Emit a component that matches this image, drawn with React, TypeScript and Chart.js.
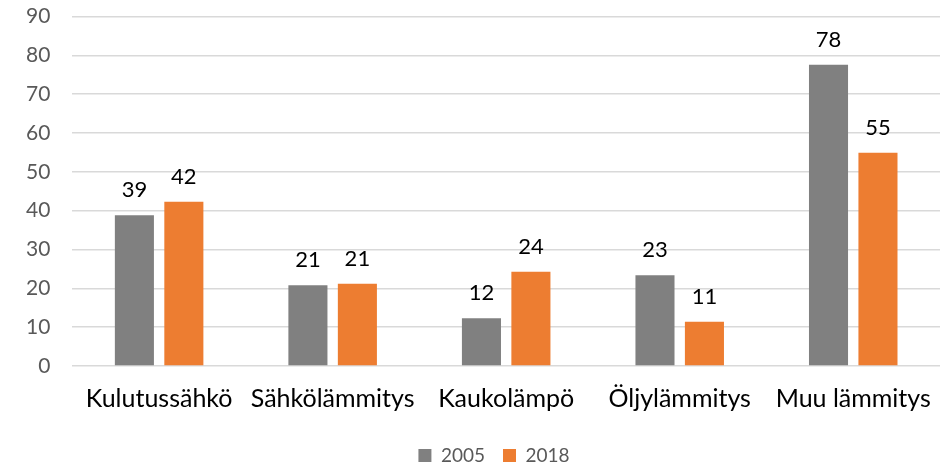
import React, { useEffect, useRef } from "react";
import { Chart, registerables } from "chart.js";

Chart.register(...registerables);

const categories = ["Kulutussähkö", "Sähkölämmitys", "Kaukolämpö", "Öljylämmitys", "Muu lämmitys"];
const series2005 = [38.8, 20.8, 12.3, 23.4, 77.6];
const series2018 = [42.3, 21.2, 24.3, 11.4, 54.9];
const seriesNames = ["2005", "2018"];
const seriesColors = ["#808080", "#ED7D31"];

const FONT = "Lato, 'Open Sans', sans-serif";

const valueLabels = {
  id: "valueLabels",
  afterLayout(chart: any) {
    const lg = chart.legend;
    if (lg) {
      lg.left += 22;
      lg.right += 22;
    }
  },
  afterDatasetsDraw(chart: any) {
    const ctx = chart.ctx;
    ctx.save();
    ctx.font = `22px ${FONT}`;
    ctx.fillStyle = "#000000";
    ctx.textAlign = "center";
    ctx.textBaseline = "bottom";
    chart.data.datasets.forEach((ds: any, i: number) => {
      const meta = chart.getDatasetMeta(i);
      if (meta.hidden) return;
      meta.data.forEach((el: any, j: number) => {
        const v = ds.data[j];
        ctx.fillText(String(Math.round(v)), el.x, el.y - 14);
      });
    });
    ctx.restore();
  },
};

export default function App() {
  const ref = useRef<HTMLCanvasElement | null>(null);
  useEffect(() => {
    if (!ref.current) return;
    const chart = new Chart(ref.current, {
      type: "bar",
      data: {
        labels: categories,
        datasets: [
          { label: seriesNames[0], data: series2005, backgroundColor: seriesColors[0], categoryPercentage: 0.57, barPercentage: 0.79 },
          { label: seriesNames[1], data: series2018, backgroundColor: seriesColors[1], categoryPercentage: 0.57, barPercentage: 0.79 },
        ],
      },
      options: {
        animation: false,
        responsive: true,
        maintainAspectRatio: false,
        layout: { padding: { top: 0, right: 6, left: 4, bottom: 0 } },
        plugins: {
          legend: {
            position: "bottom",
            labels: {
              boxWidth: 13,
              boxHeight: 13,
              color: "#595959",
              font: { family: FONT, size: 19 },
              padding: 18,
            },
          },
          tooltip: { enabled: false },
        },
        scales: {
          x: {
            grid: { display: false },
            border: { display: false },
            ticks: { color: "#000000", font: { family: FONT, size: 25 }, padding: 10 },
            afterFit: (scale: any) => {
              scale.height += 4;
            },
          },
          y: {
            min: 0,
            max: 90,
            ticks: { stepSize: 10, color: "#595959", font: { family: FONT, size: 21 }, padding: 22 },
            grid: { color: "#d9d9d9", lineWidth: 1.5, drawTicks: false },
            border: { display: false },
          },
        },
      },
      plugins: [valueLabels],
    });
    return () => chart.destroy();
  }, []);
  return (
    <div style={{ position: "fixed", left: 0, top: -18, width: 946, height: 493 }}>
      <canvas ref={ref} />
    </div>
  );
}
